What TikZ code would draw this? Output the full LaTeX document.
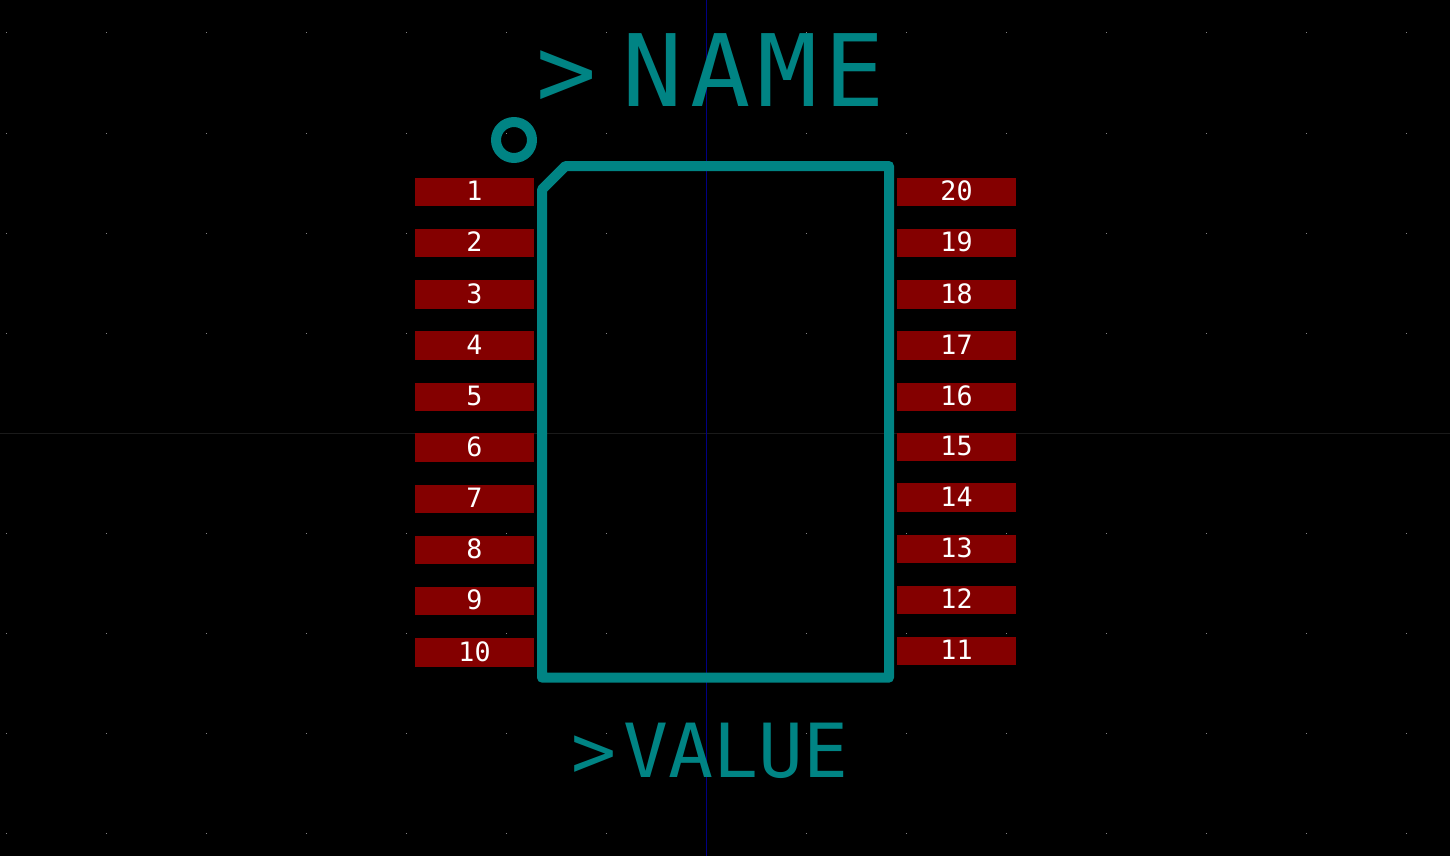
\documentclass[tikz,border=0pt]{standalone}
\usepackage{fontspec}
\setmainfont{DejaVu Sans Mono}
\definecolor{silkcol}{RGB}{0,132,132}
\definecolor{padcol}{RGB}{132,0,0}
\definecolor{axiscol}{RGB}{0,0,132}
\definecolor{dotcol}{RGB}{132,132,132}
\definecolor{origincol}{RGB}{26,26,26}
\tikzset{every picture/.style={line width=0.75pt},
  padbox/.style={fill=padcol,text=white,inner sep=0pt,minimum width=119*0.75pt,minimum height=28.5*0.75pt,text depth=1.5pt,font=\fontsize{20}{20}\selectfont},
  silkline/.style={draw=silkcol,line width=7.5pt,line cap=round,line join=round},
  silktext/.style={text=silkcol,inner sep=0pt,anchor=base west}}

\begin{document}
\begin{tikzpicture}[x=0.75pt,y=0.75pt,yscale=-1,xscale=1]
\fill[black] (0,0) rectangle (1450,856);
\useasboundingbox (0,0) rectangle (1450,856);

%Grid dots
\foreach \gx in {6,106,...,1406}
  \foreach \gy in {33,133,...,833}
    \fill[dotcol] (\gx-0.5,\gy-0.5) rectangle (\gx+0.5,\gy+0.5);

%Straight Lines
\draw[origincol] (0,433.5) -- (1450,433.5);
\draw[axiscol,line width=0.9pt] (706.5,0) -- (706.5,856);

%Left pads
\foreach \num/\py in {1/192,2/243,3/294.5,4/345.5,5/397,6/447.5,7/499,8/550,9/601,10/652.5}
  \node[padbox] (pad\num) at (474.5,\py) {\num};
%Right pads
\foreach \num/\py in {20/192,19/243,18/294.5,17/345.5,16/397,15/447,14/497.5,13/549,12/600,11/651}
  \node[padbox] (pad\num) at (956.5,\py) {\num};

%Shape: Outline
\draw[silkline] (542,189.5) -- (565.5,166) -- (889,166) -- (889,677.7) -- (542,677.7) -- cycle;
%Shape: Circle
\draw[silkline] (514,140) circle (18);

% Text Node
\node[silktext,font=\fontsize{75}{75}\selectfont\addfontfeatures{LetterSpace=7}] (nametext) at (535.5,106.5) {>\kern20pt NAME};
% Text Node
\node[silktext,font=\fontsize{56}{56}\selectfont] (valuetext) at (570.5,777) {>\kern6pt VALUE};
\end{tikzpicture}
\end{document}
